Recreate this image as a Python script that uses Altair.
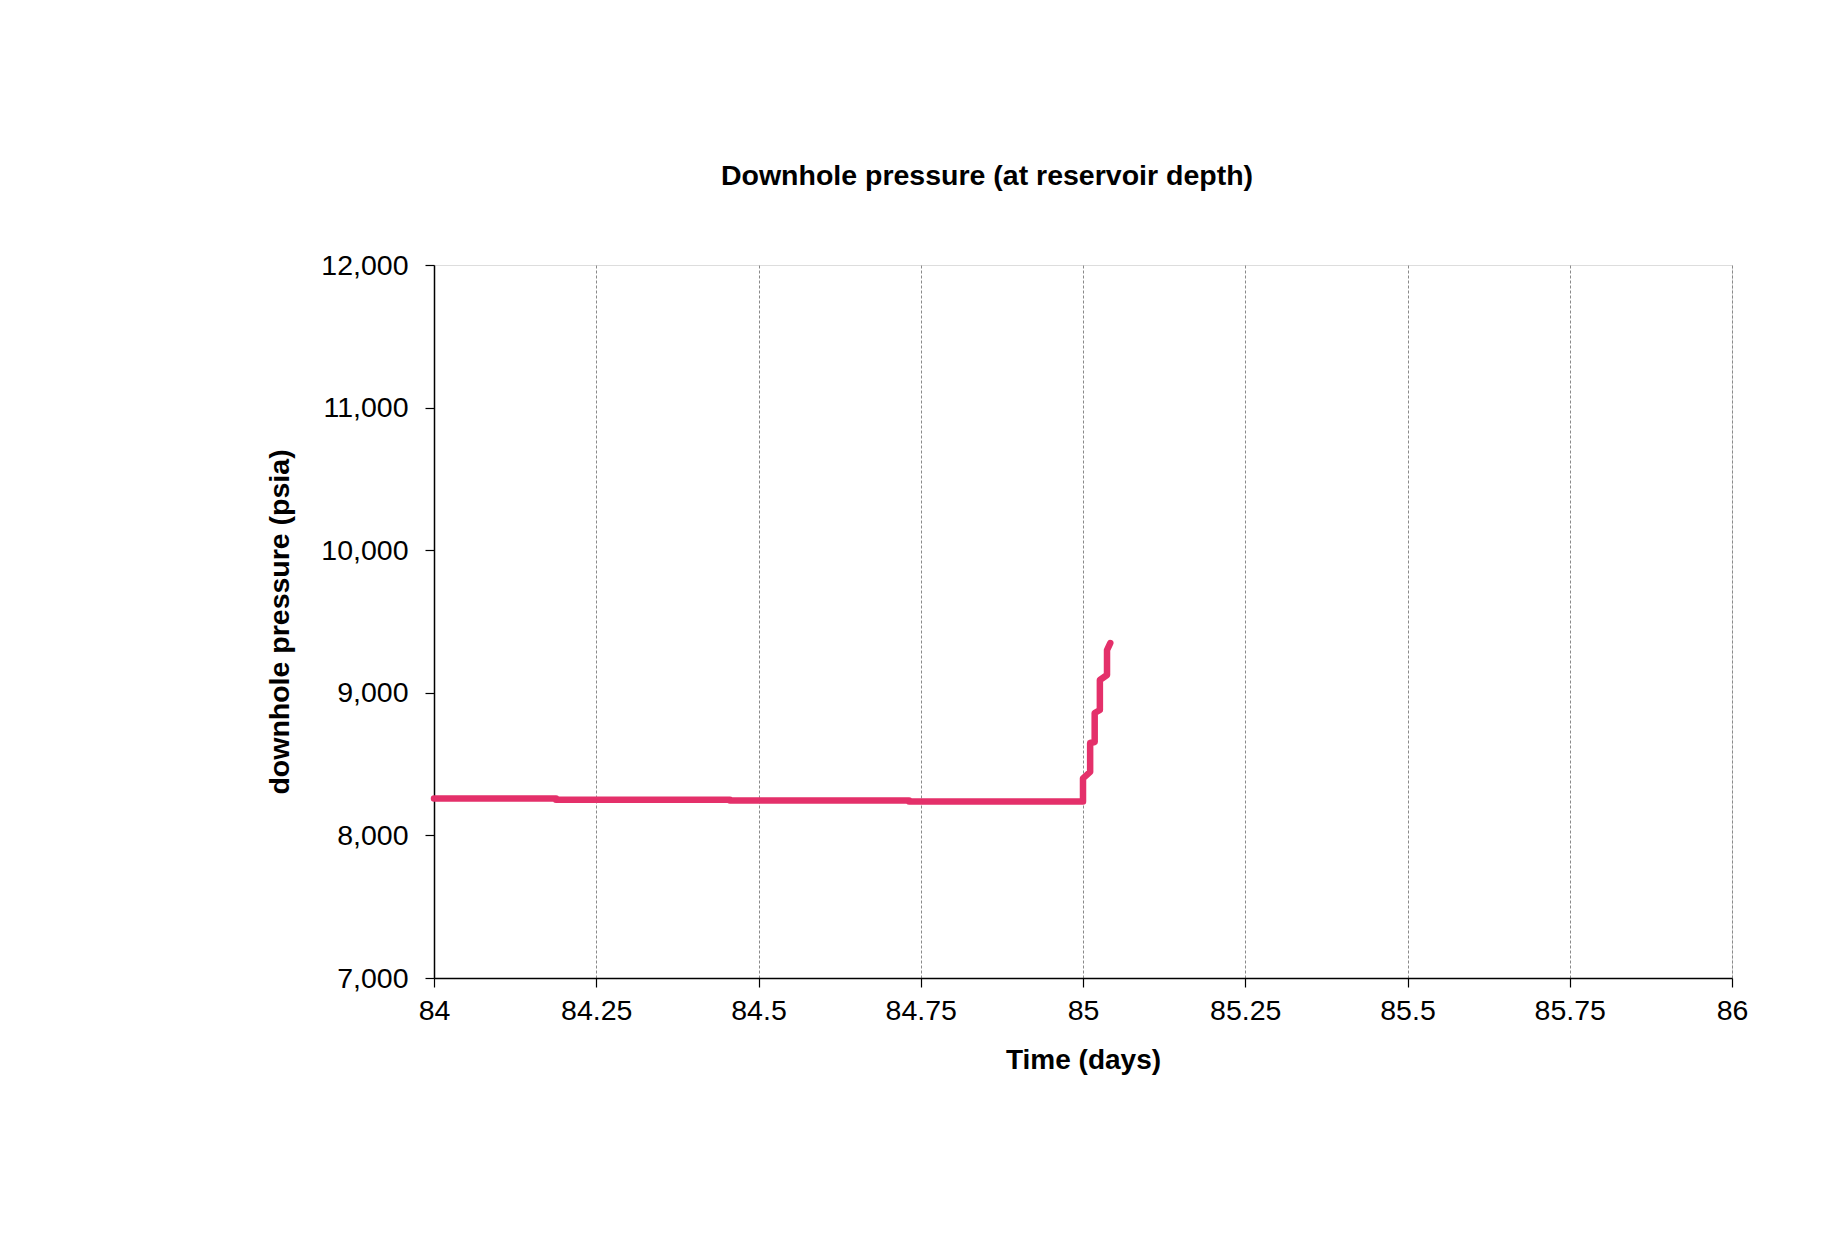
import altair as alt
import pandas as pd

# Data
time_days = [84.000, 84.188, 84.188, 84.456, 84.456, 84.732, 84.732, 85.000,
             85.000, 85.011, 85.011, 85.018, 85.018, 85.026, 85.026, 85.037,
             85.037, 85.042]
pressure_psia = [8258, 8258, 8250, 8250, 8244, 8244, 8238, 8238,
                 8400, 8445, 8648, 8655, 8858, 8879, 9090, 9125,
                 9300, 9349]
x_ticks = [84, 84.25, 84.5, 84.75, 85, 85.25, 85.5, 85.75, 86]
y_ticks = [7000, 8000, 9000, 10000, 11000, 12000]

df = pd.DataFrame({"t": time_days, "p": pressure_psia, "order": list(range(len(time_days)))})

FONT = "Liberation Sans"

line = alt.Chart(df).mark_line(
    color="#E4306A", strokeWidth=6.5, strokeJoin="round", strokeCap="round"
).encode(
    x=alt.X("t:Q",
            scale=alt.Scale(domain=[84, 86], nice=False, zero=False),
            axis=alt.Axis(values=x_ticks, format=".2~f", title="Time (days)",
                          grid=True, gridColor="#8a8a8a", gridWidth=1, gridDash=[3, 2],
                          tickSize=9, tickColor="black", tickWidth=1.2,
                          domainColor="black", domainWidth=1.5,
                          labelFont=FONT, labelFontSize=28.5, labelColor="black",
                          labelPadding=9, labelFlush=False, labelOverlap=False,
                          titleFont=FONT, titleFontSize=28, titleFontWeight="bold",
                          titleColor="black", titleY=82, titleBaseline="middle")),
    y=alt.Y("p:Q",
            scale=alt.Scale(domain=[7000, 12000], nice=False, zero=False),
            axis=alt.Axis(values=y_ticks, format=",.0f", title="downhole pressure (psia)",
                          grid=False,
                          tickSize=9, tickColor="black", tickWidth=1.2,
                          domainColor="black", domainWidth=1.5,
                          labelFont=FONT, labelFontSize=28.5, labelColor="black",
                          labelPadding=17,
                          titleFont=FONT, titleFontSize=28.5, titleFontWeight="bold",
                          titleColor="black", titleX=-155, titleBaseline="middle")),
    order="order:O",
)

chart = line.properties(
    width=1298,
    height=713,
    title=alt.TitleParams(text="Downhole pressure (at reservoir depth)", font=FONT,
                          fontSize=28.5, fontWeight="bold", color="black",
                          anchor="middle", dx=-96, offset=32, baseline="bottom"),
    autosize=alt.AutoSizeParams(type="none"),
    padding={"left": 426, "top": 257, "right": 100, "bottom": 240},
).configure_view(
    stroke="#333333", strokeWidth=1.5
).configure(background="white")

chart.save("out.html", embed_options={"renderer": "svg", "actions": False})
